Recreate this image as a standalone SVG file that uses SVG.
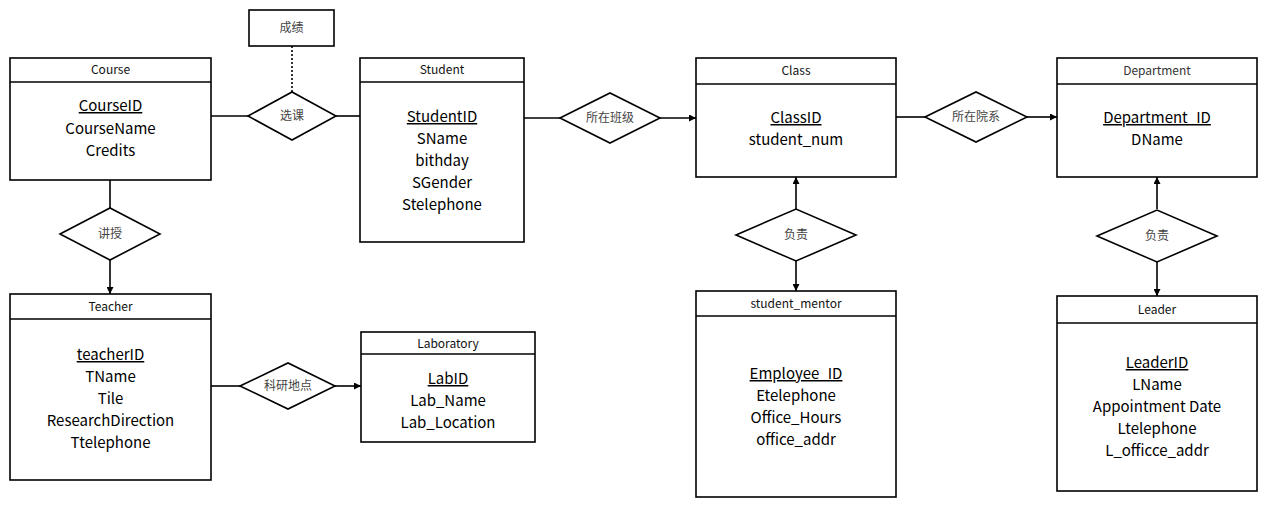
<svg xmlns="http://www.w3.org/2000/svg" width="1280" height="508" viewBox="0 0 1280 508">
<defs>
<marker id="arr" viewBox="0 0 10 10" refX="10" refY="5" markerWidth="7" markerHeight="7" markerUnits="userSpaceOnUse" orient="auto">
<path d="M0,0 L10,5 L0,10 z" fill="#000"/>
</marker>
<style>
.box{fill:#fff;stroke:#000;stroke-width:1.6}
.hl{stroke:#000;stroke-width:1.6}
.dia{fill:#fff;stroke:#000;stroke-width:1.6}
.ln{fill:none;stroke:#000;stroke-width:1.6}
.dot{fill:none;stroke:#000;stroke-width:1.6;stroke-dasharray:2 2}
.hd{font-family:"Noto Sans CJK SC","Noto Sans",sans-serif;font-size:12px;fill:#111;text-anchor:middle}
.at{font-family:"Noto Sans CJK SC","Noto Sans",sans-serif;font-size:15px;fill:#000;text-anchor:middle}
.pk{text-decoration:underline}
.rl{font-family:"Noto Sans CJK SC","Noto Sans",sans-serif;font-size:12px;fill:#444;text-anchor:middle}
</style>
</defs>
<rect width="1280" height="508" fill="#fff"/>

<g id="connectors">
<line class="dot" x1="292" y1="46" x2="292" y2="92"/>
<line class="ln" x1="211" y1="116" x2="248" y2="116"/>
<line class="ln" x1="336" y1="116" x2="360" y2="116"/>
<line class="ln" x1="524" y1="118" x2="560" y2="118"/>
<line class="ln" x1="660" y1="118" x2="696" y2="118" marker-end="url(#arr)"/>
<line class="ln" x1="896" y1="117" x2="925" y2="117"/>
<line class="ln" x1="1027" y1="117" x2="1057" y2="117" marker-end="url(#arr)"/>
<line class="ln" x1="796" y1="209" x2="796" y2="177" marker-end="url(#arr)"/>
<line class="ln" x1="796" y1="261" x2="796" y2="291" marker-end="url(#arr)"/>
<line class="ln" x1="1157" y1="209" x2="1157" y2="177" marker-end="url(#arr)"/>
<line class="ln" x1="1157" y1="262" x2="1157" y2="296" marker-end="url(#arr)"/>
<line class="ln" x1="110" y1="180" x2="110" y2="208"/>
<line class="ln" x1="110" y1="260" x2="110" y2="294" marker-end="url(#arr)"/>
<line class="ln" x1="211" y1="386" x2="240" y2="386"/>
<line class="ln" x1="335" y1="386" x2="361" y2="386" marker-end="url(#arr)"/>
</g>

<g id="grade">
<rect class="box" x="249" y="10" width="85" height="36"/>
<text class="rl" x="291.5" y="32">成绩</text>
</g>

<g id="rel-xuanke">
<polygon class="dia" points="248,116 292,92 336,116 292,140"/>
<text class="rl" x="292" y="120">选课</text>
</g>

<g id="rel-class">
<polygon class="dia" points="560,118 610,93 660,118 610,143"/>
<text class="rl" x="610" y="122">所在班级</text>
</g>

<g id="rel-dept">
<polygon class="dia" points="925,117 976,92 1027,117 976,142"/>
<text class="rl" x="976" y="121">所在院系</text>
</g>

<g id="rel-mentor">
<polygon class="dia" points="736,235 796,209 856,235 796,261"/>
<text class="rl" x="796" y="239">负责</text>
</g>

<g id="rel-leader">
<polygon class="dia" points="1097,236 1157,210 1217,236 1157,262"/>
<text class="rl" x="1157" y="240">负责</text>
</g>

<g id="rel-teach">
<polygon class="dia" points="60,234 110,208 160,234 110,260"/>
<text class="rl" x="110" y="238">讲授</text>
</g>

<g id="rel-lab">
<polygon class="dia" points="240,386 288,363 335,386 288,409"/>
<text class="rl" x="288" y="390">科研地点</text>
</g>

<g id="course">
<rect class="box" x="10" y="58" width="201" height="122"/>
<line class="hl" x1="10" y1="82" x2="211" y2="82"/>
<text class="hd" x="110.5" y="74">Course</text>
<text class="at pk" x="110.5" y="111">CourseID</text>
<text class="at" x="110.5" y="134">CourseName</text>
<text class="at" x="110.5" y="156">Credits</text>
</g>

<g id="student">
<rect class="box" x="360" y="58" width="164" height="184"/>
<line class="hl" x1="360" y1="82" x2="524" y2="82"/>
<text class="hd" x="442" y="74">Student</text>
<text class="at pk" x="442" y="122">StudentID</text>
<text class="at" x="442" y="144">SName</text>
<text class="at" x="442" y="166">bithday</text>
<text class="at" x="442" y="188">SGender</text>
<text class="at" x="442" y="210">Stelephone</text>
</g>

<g id="class">
<rect class="box" x="696" y="58" width="200" height="119"/>
<line class="hl" x1="696" y1="84" x2="896" y2="84"/>
<text class="hd" x="796" y="75">Class</text>
<text class="at pk" x="796" y="123">ClassID</text>
<text class="at" x="796" y="145">student_num</text>
</g>

<g id="department">
<rect class="box" x="1057" y="58" width="200" height="119"/>
<line class="hl" x1="1057" y1="84" x2="1257" y2="84"/>
<text class="hd" x="1157" y="75" style="fill:#333">Department</text>
<text class="at pk" x="1157" y="123">Department_ID</text>
<text class="at" x="1157" y="145">DName</text>
</g>

<g id="student_mentor">
<rect class="box" x="696" y="291" width="200" height="206"/>
<line class="hl" x1="696" y1="316" x2="896" y2="316"/>
<text class="hd" x="796" y="308">student_mentor</text>
<text class="at pk" x="796" y="379">Employee_ID</text>
<text class="at" x="796" y="401">Etelephone</text>
<text class="at" x="796" y="423">Office_Hours</text>
<text class="at" x="796" y="445">office_addr</text>
</g>

<g id="leader">
<rect class="box" x="1057" y="296" width="200" height="195"/>
<line class="hl" x1="1057" y1="323" x2="1257" y2="323"/>
<text class="hd" x="1157" y="314">Leader</text>
<text class="at pk" x="1157" y="368">LeaderID</text>
<text class="at" x="1157" y="390">LName</text>
<text class="at" x="1157" y="412">Appointment Date</text>
<text class="at" x="1157" y="434">Ltelephone</text>
<text class="at" x="1157" y="456">L_officce_addr</text>
</g>

<g id="teacher">
<rect class="box" x="10" y="294" width="201" height="186"/>
<line class="hl" x1="10" y1="319" x2="211" y2="319"/>
<text class="hd" x="110.5" y="311">Teacher</text>
<text class="at pk" x="110.5" y="360">teacherID</text>
<text class="at" x="110.5" y="382">TName</text>
<text class="at" x="110.5" y="404">Tile</text>
<text class="at" x="110.5" y="426">ResearchDirection</text>
<text class="at" x="110.5" y="448">Ttelephone</text>
</g>

<g id="laboratory">
<rect class="box" x="361" y="332" width="174" height="110"/>
<line class="hl" x1="361" y1="354" x2="535" y2="354"/>
<text class="hd" x="448" y="348">Laboratory</text>
<text class="at pk" x="448" y="384">LabID</text>
<text class="at" x="448" y="406">Lab_Name</text>
<text class="at" x="448" y="428">Lab_Location</text>
</g>
</svg>
